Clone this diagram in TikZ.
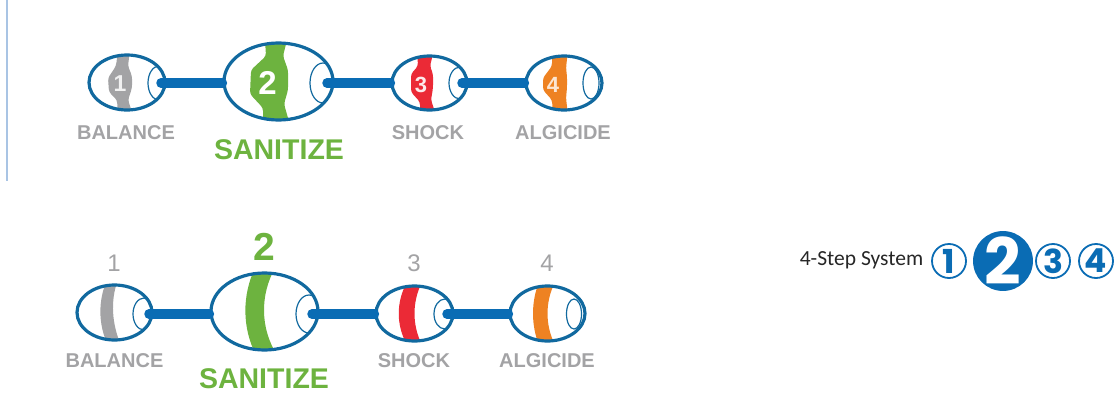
\documentclass[tikz,border=0pt]{standalone}
\usepackage{fontspec}
\setmainfont{Liberation Sans}
\newfontfamily\sysfont{Carlito}
\newfontfamily\digfont{Poppins}[UprightFont=* Bold]
\usetikzlibrary{shapes.geometric}
\definecolor{outl}{HTML}{11699F}
\definecolor{conn}{HTML}{0A6CB4}
\definecolor{grayA}{HTML}{A3A3A5}
\definecolor{grnA}{HTML}{6DB33F}
\definecolor{redA}{HTML}{EB2A36}
\definecolor{orgA}{HTML}{EE8222}
\definecolor{sideblue}{HTML}{A9C4E4}
\tikzset{
  capsule/.style={ellipse,draw=outl,line width=3.2pt,inner sep=0pt,fill=none},
  innercap/.style={ellipse,draw=outl,line width=1.2pt,inner sep=0pt,fill=white},
  link/.style={draw=conn,line width=9.5pt,line cap=round},
  lbl/.style={font=\bfseries\fontsize{20}{20}\selectfont,text=grayA,inner sep=0pt},
  biglbl/.style={font=\bfseries\fontsize{28.5}{28.5}\selectfont,text=grnA,inner sep=0pt},
  numgray/.style={font=\fontsize{24}{24}\selectfont,text=grayA,inner sep=0pt},
  numgreen/.style={font=\bfseries\fontsize{39}{39}\selectfont,text=grnA,inner sep=0pt},
  ringnum/.style={circle,draw=conn,line width=1.8pt,fill=white,text=conn,minimum size=34pt,inner sep=0pt,font=\digfont\fontsize{33}{33}\selectfont},
  ringbig/.style={circle,fill=conn,text=white,minimum size=55pt,inner sep=0pt,font=\digfont\fontsize{64}{64}\selectfont},
  innum/.style={text=white,inner sep=0pt,font=\bfseries\fontsize{#1}{#1}\selectfont},
  blob/.style={fill=#1,rounded corners=3pt},
}
% cx, cy, rx, ry, style, band path
\newcommand{\bandin}[6]{\begin{scope}\clip (#1,#2) ellipse [x radius=#3,y radius=#4];\fill[#5] #6;\end{scope}}
% name, cx, cy, rx, ry
\newcommand{\capsulenode}[5]{\node[capsule,minimum width=#4*2pt,minimum height=#5*2pt] (#1) at (#2,#3) {};}
\begin{document}
\begin{tikzpicture}[x=1pt,y=-1pt]
\useasboundingbox (0,0) rectangle (1120,402);
\draw[sideblue,line width=1.3pt] (7,0) -- (7,181);

% ---------- top row ----------
\bandin{127}{82.5}{38}{27.5}{blob=grayA}{(118,50) -- (116,66) -- (108,78) -- (109,92) -- (117,100) -- (118,115) -- (133,115) -- (128,100) -- (132,88) -- (132,76) -- (128,66) -- (130,50) -- cycle}
\bandin{278.5}{81.5}{54.5}{38.5}{blob=grnA}{(265,40) -- (266,56) -- (251,70) -- (250,94) -- (263,108) -- (263,125) -- (290,125) -- (284,104) -- (288,90) -- (288,70) -- (283,56) -- (287,40) -- cycle}
\bandin{429.5}{83}{37.5}{27}{blob=redA}{(417,50) -- (418,66) -- (411,74) -- (411,92) -- (420,102) -- (420,115) -- (436,115) -- (431,100) -- (433,88) -- (433,74) -- (430,66) -- (434,50) -- cycle}
\bandin{564}{83}{38}{27}{blob=orgA}{(552,50) -- (552,66) -- (543,78) -- (543,90) -- (552,100) -- (553,115) -- (568,115) -- (566,98) -- (567,88) -- (567,76) -- (566,68) -- (568,50) -- cycle}
\node[innum=23,text=white!85!grayA] (t1n) at (120,84) {1};
\node[innum=33] (t2n) at (267.5,83) {2};
\node[innum=22,text=white!90!redA] (t3n) at (421,85) {3};
\node[innum=22,text=white!80!orgA] (t4n) at (553,85) {4};

\begin{scope}\clip (127,82.5) ellipse [x radius=38,y radius=27.5];
\node[innercap,minimum width=22pt,minimum height=34pt] (ti1) at (159,83) {};\end{scope}
\begin{scope}\clip (278.5,81.5) ellipse [x radius=54.5,y radius=38.5];
\node[innercap,minimum width=26pt,minimum height=40pt] (ti2) at (323,83) {};\end{scope}
\begin{scope}\clip (429.5,83) ellipse [x radius=37.5,y radius=27];
\node[innercap,minimum width=22pt,minimum height=32pt] (ti3) at (460,83) {};\end{scope}
\node[innercap,minimum width=16pt,minimum height=32pt] (ti4) at (591,83) {};

\capsulenode{t1}{127}{82.5}{38}{27.5}
\capsulenode{t2}{278.5}{81.5}{54.5}{38.5}
\capsulenode{t3}{429.5}{83}{37.5}{27}
\capsulenode{t4}{564}{83}{38}{27}
\draw[link] (ti1.center) ++(2,0) -- (t2.west |- ti1.center);
\draw[link] (ti2.center) ++(4,0) -- (t3.west |- ti2.center);
\draw[link] (ti3.center) ++(2,0) -- (t4.west |- ti3.center);

\node[lbl] (tl1) at (126,133) {BALANCE};
\node[biglbl] (tl2) at (279,150) {SANITIZE};
\node[lbl] (tl3) at (428,133) {SHOCK};
\node[lbl] (tl4) at (563,133) {ALGICIDE};

% ---------- bottom row ----------
\bandin{114.5}{312.5}{37.5}{27.5}{fill=grayA}{(107,280) .. controls (98,300) and (98,325) .. (108,345) -- (121,345) .. controls (112,325) and (110,300) .. (118,280) -- cycle}
\bandin{264.5}{311.5}{53.5}{38.5}{fill=grnA}{(255,268) .. controls (242,295) and (242,328) .. (256,355) -- (277,355) .. controls (260,328) and (260,295) .. (275,268) -- cycle}
\bandin{414.5}{313.5}{38.5}{27.5}{fill=redA}{(407,282) .. controls (396,302) and (396,325) .. (407,345) -- (422,345) .. controls (412,325) and (412,302) .. (422,282) -- cycle}
\bandin{547.5}{313.5}{37.5}{27.5}{fill=orgA}{(539,282) .. controls (531,302) and (531,325) .. (539,345) -- (555,345) .. controls (545,325) and (545,302) .. (555,282) -- cycle}

\begin{scope}\clip (114.5,312.5) ellipse [x radius=37.5,y radius=27.5];
\node[innercap,minimum width=22pt,minimum height=32pt] (bi1) at (144,314) {};\end{scope}
\begin{scope}\clip (264.5,311.5) ellipse [x radius=53.5,y radius=38.5];
\node[innercap,minimum width=26pt,minimum height=38pt] (bi2) at (309,314) {};\end{scope}
\begin{scope}\clip (414.5,313.5) ellipse [x radius=38.5,y radius=27.5];
\node[innercap,minimum width=22pt,minimum height=30pt] (bi3) at (445,314) {};\end{scope}
\node[innercap,minimum width=15pt,minimum height=30pt] (bi4) at (574,314) {};

\capsulenode{b1}{114.5}{312.5}{37.5}{27.5}
\capsulenode{b2}{264.5}{311.5}{53.5}{38.5}
\capsulenode{b3}{414.5}{313.5}{38.5}{27.5}
\capsulenode{b4}{547.5}{313.5}{37.5}{27.5}
\draw[link] (bi1.center) ++(5,0) -- (b2.west |- bi1.center);
\draw[link] (bi2.center) ++(3,0) -- (b3.west |- bi2.center);
\draw[link] (bi3.center) ++(2,0) -- (b4.west |- bi3.center);

\node[numgray] (bn1) at (114,263) {1};
\node[numgreen] (bn2) at (264,247) {2};
\node[numgray] (bn3) at (414,263) {3};
\node[numgray] (bn4) at (547,263) {4};

\node[lbl] (bl1) at (114.5,361) {BALANCE};
\node[biglbl] (bl2) at (264,379) {SANITIZE};
\node[lbl] (bl3) at (414,361) {SHOCK};
\node[lbl] (bl4) at (547,361) {ALGICIDE};

% ---------- 4-step system ----------
\node[inner sep=0pt,text=black!85,font=\sysfont\fontsize{21.5}{21.5}\selectfont] (sys) at (861.5,260) {4-Step System};
\node[ringnum] (r1) at (949,261) {1};
\node[ringbig] (r2) at (1003,261) {2};
\node[ringnum] (r3) at (1053,261) {3};
\node[ringnum] (r4) at (1096,261) {4};
\end{tikzpicture}
\end{document}
